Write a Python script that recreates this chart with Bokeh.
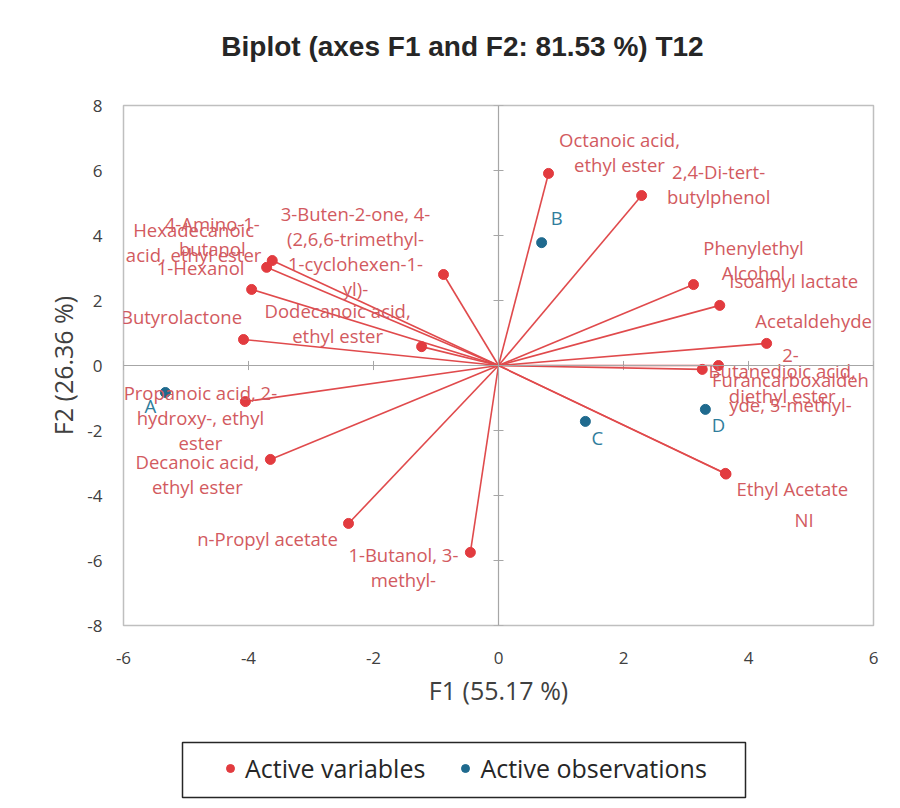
from bokeh.plotting import figure
from bokeh.layouts import column
from bokeh.models import ColumnDataSource, Legend, LegendItem, FixedTicker, Span
from bokeh.core.properties import value
from bokeh.embed import file_html
from bokeh.resources import INLINE

# ---------------- data ----------------
title_text = "Biplot (axes F1 and F2: 81.53 %) T12"

var_names = [
    "Octanoic acid,\nethyl ester",
    "2,4-Di-tert-\nbutylphenol",
    "Phenylethyl\nAlcohol",
    "Isoamyl lactate",
    "Acetaldehyde",
    "2-\nFurancarboxaldeh\nyde, 5-methyl-",
    "Butanedioic acid,\ndiethyl ester",
    "Ethyl Acetate",
    "NI",
    "Hexadecanoic\nacid, ethyl ester",
    "4-Amino-1-\nbutanol",
    "1-Hexanol",
    "3-Buten-2-one, 4-\n(2,6,6-trimethyl-\n1-cyclohexen-1-\nyl)-",
    "Butyrolactone",
    "Dodecanoic acid,\nethyl ester",
    "Propanoic acid, 2-\nhydroxy-, ethyl\nester",
    "Decanoic acid,\nethyl ester",
    "n-Propyl acetate",
    "1-Butanol, 3-\nmethyl-",
]
var_f1 = [0.80, 2.29, 3.12, 3.54, 4.29, 3.52, 3.26, 3.63, 3.64,
          -3.71, -3.62, -3.95, -0.88, -4.08, -1.23, -4.05, -3.65, -2.40, -0.45]
var_f2 = [5.91, 5.23, 2.49, 1.85, 0.68, 0.00, -0.12, -3.32, -3.34,
          3.02, 3.23, 2.34, 2.80, 0.80, 0.58, -1.11, -2.89, -4.86, -5.75]

obs_names = ["A", "B", "C", "D"]
obs_f1 = [-5.33, 0.69, 1.39, 3.31]
obs_f2 = [-0.83, 3.78, -1.72, -1.35]

x_ticks = [-6, -4, -2, 0, 2, 4, 6]
y_ticks = [-8, -6, -4, -2, 0, 2, 4, 6, 8]

legend_labels = ["Active variables", "Active observations"]

# label placement offsets (screen px, relative to each point; +y is down)
var_dx = [71, 77, 60, 74, 47, 72, 80, 67, 78, -73, -60, -51, -88, -62, -84, -45, -73, -81, -67]
var_dy = [-21, -12, -25, -25, -23, 14, 14, 15, 45, -25, -25, -22, -24, -23, -24, 16, 15, 15, 15]
obs_dx = [-15, 15, 12, 13]
obs_dy = [13, -25, 16, 15]

RED = "#E23B3F"
LINE_RED = "#E04A4C"
TXT_RED = "#D25A60"
BLUE = "#1F6A8E"
TXT_BLUE = "#2F7D9C"
GRAY = "#A6A6A6"
W = 898
SHIFT = 123  # strip frames end up aligned with the main plot's frame

# ---------------- title strip ----------------
head = figure(frame_width=W, frame_height=93, x_range=(0, W), y_range=(0, 93),
              x_axis_type=None, y_axis_type=None,
              output_backend="svg", toolbar_location=None,
              min_border=0, border_fill_color="white", background_fill_color="white")
head.outline_line_color = None
head.grid.visible = False
head.text(x=[462 - SHIFT], y=[47], text=[title_text],
          text_font=value("Liberation Sans"), text_font_style="bold",
          text_font_size="28px", text_color="#262626",
          text_align="center", text_baseline="middle")

# ---------------- main biplot ----------------
p = figure(frame_width=750, frame_height=520,
           x_range=(-6, 6), y_range=(-8, 8),
           output_backend="svg", toolbar_location=None,
           min_border_left=123, min_border_right=25,
           min_border_top=12, min_border_bottom=110,
           background_fill_color="white", border_fill_color="white")
p.outline_line_color = "#BFBFBF"
p.outline_line_width = 1.5
p.grid.visible = False

for ax, ticks in ((p.xaxis, x_ticks), (p.yaxis, y_ticks)):
    ax.ticker = FixedTicker(ticks=ticks)
    ax.major_label_overrides = {t: str(t) for t in ticks}
    ax.axis_line_color = None
    ax.major_tick_line_color = None
    ax.minor_tick_line_color = None
    ax.major_label_text_font = "Open Sans"
    ax.major_label_text_font_size = "17px"
    ax.major_label_text_color = "#404040"
    ax.axis_label_text_font = "Open Sans"
    ax.axis_label_text_font_size = "25px"
    ax.axis_label_text_font_style = "normal"
    ax.axis_label_text_color = "#404040"

p.xaxis.axis_label = "F1 (55.17 %)"
p.yaxis.axis_label = "F2 (26.36 %)"
p.xaxis.major_label_standoff = 20
p.xaxis.axis_label_standoff = 6
p.yaxis.major_label_standoff = 15
p.yaxis.axis_label_standoff = 4

# axes through origin
p.add_layout(Span(location=0, dimension="height", line_color=GRAY, line_width=1.2))
p.add_layout(Span(location=0, dimension="width", line_color=GRAY, line_width=1.2))
# tick marks on the centre axes
p.segment(x0=[-0.08] * len(y_ticks), x1=[0.08] * len(y_ticks), y0=y_ticks, y1=y_ticks,
          line_color=GRAY, line_width=1)
p.segment(x0=x_ticks, x1=x_ticks, y0=[-0.14] * len(x_ticks), y1=[0.14] * len(x_ticks),
          line_color=GRAY, line_width=1)

vsrc = ColumnDataSource(dict(x=var_f1, y=var_f2, name=var_names,
                             dx=var_dx, dy=var_dy, x0=[0] * len(var_f1), y0=[0] * len(var_f1)))
osrc = ColumnDataSource(dict(x=obs_f1, y=obs_f2, name=obs_names, dx=obs_dx, dy=obs_dy))

p.segment(x0="x0", y0="y0", x1="x", y1="y", source=vsrc, line_color=LINE_RED, line_width=1.6)
p.scatter("x", "y", source=vsrc, size=10, fill_color=RED, line_color=RED)
p.scatter("x", "y", source=osrc, size=10, fill_color=BLUE, line_color=BLUE)

p.text("x", "y", text="name", source=vsrc, x_offset="dx", y_offset="dy",
       text_font=value("Open Sans"), text_font_size="18.5px", text_color=TXT_RED,
       text_align="center", text_baseline="middle", text_line_height=1.0)
p.text("x", "y", text="name", source=osrc, x_offset="dx", y_offset="dy",
       text_font=value("Open Sans"), text_font_size="18.5px", text_color=TXT_BLUE,
       text_align="center", text_baseline="middle")

# ---------------- legend strip ----------------
leg = figure(frame_width=W, frame_height=70, x_range=(0, W), y_range=(0, 70),
             x_axis_type=None, y_axis_type=None,
             output_backend="svg", toolbar_location=None,
             min_border=0, border_fill_color="white", background_fill_color="white")
leg.outline_line_color = None
leg.grid.visible = False
# legend frame box
leg.quad(left=[182 - SHIFT], right=[745 - SHIFT], bottom=[8], top=[63],
         fill_color="white", line_color="#262626", line_width=1.5)
# proxy renderers (off-view) for the legend glyphs
lr_var = leg.scatter(x=[-500], y=[-100], size=9, fill_color=RED, line_color=RED)
lr_obs = leg.scatter(x=[-500], y=[-100], size=9, fill_color=BLUE, line_color=BLUE)
legend = Legend(items=[LegendItem(label=legend_labels[0], renderers=[lr_var]),
                       LegendItem(label=legend_labels[1], renderers=[lr_obs])],
                orientation="horizontal", location=(220, 20),
                label_text_font="Open Sans", label_text_font_size="25px",
                label_text_color="#262626",
                border_line_color=None, background_fill_alpha=0,
                padding=0, spacing=30, glyph_width=20, glyph_height=20,
                label_standoff=5, margin=0)
leg.add_layout(legend, "center")

layout = column(head, p, leg, spacing=0)
open("out.html", "w").write(file_html(layout, INLINE))
